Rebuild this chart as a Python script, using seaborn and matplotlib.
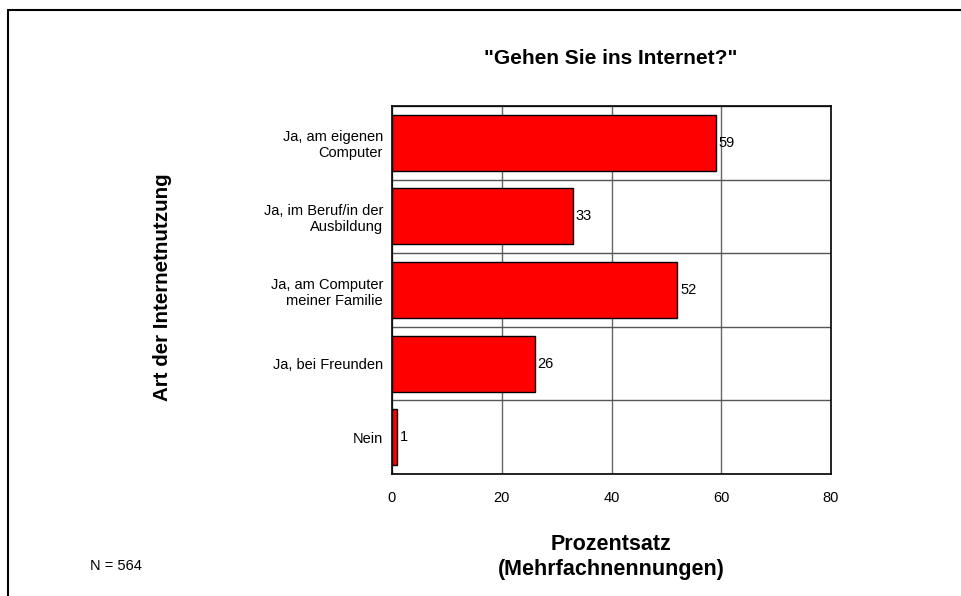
import matplotlib
matplotlib.use("Agg")
import matplotlib.pyplot as plt
from matplotlib.lines import Line2D
from matplotlib.ticker import FixedLocator
import pandas as pd
import seaborn as sns

# data
kategorien = ["Ja, am eigenen\nComputer", "Ja, im Beruf/in der\nAusbildung",
              "Ja, am Computer\nmeiner Familie", "Ja, bei Freunden", "Nein"]
prozent = [59, 33, 52, 26, 1]
x_ticks = [0, 20, 40, 60, 80]

df = pd.DataFrame({"Art": kategorien, "Prozent": prozent})

sns.set_style("white")
plt.rcParams["font.family"] = ["Liberation Sans", "DejaVu Sans"]
plt.rcParams["text.color"] = "black"
plt.rcParams["xtick.labelcolor"] = "black"
plt.rcParams["ytick.labelcolor"] = "black"

fig = plt.figure(figsize=(9.62, 5.96), dpi=100)
ax = fig.add_axes([392 / 962, 1 - 474 / 596, 439 / 962, 368 / 596])

sns.barplot(data=df, x="Prozent", y="Art", orient="h", color="#ff0000",
            edgecolor="black", linewidth=1, width=0.76, saturation=1, ax=ax, zorder=3)

ax.set_xlim(0, 80)
ax.set_xticks(x_ticks)
ax.set_ylim(len(kategorien) - 0.5, -0.5)

# category boundaries as minor ticks / horizontal grid
ax.yaxis.set_minor_locator(FixedLocator([i - 0.5 for i in range(len(kategorien) + 1)]))
ax.tick_params(axis="y", which="major", length=0, labelsize=10.5, pad=6.5)
ax.tick_params(axis="y", which="minor", length=5, width=1, color="black", direction="out")
ax.tick_params(axis="x", which="major", length=5, width=1, color="#808080",
               direction="out", labelsize=10.5, pad=7)
ax.grid(axis="y", which="minor", color="#555555", linewidth=1, zorder=0)
ax.grid(axis="x", which="major", color="#666666", linewidth=1, zorder=0)
ax.set_axisbelow(True)

for s in ax.spines.values():
    s.set_visible(True)
    s.set_color("black")
    s.set_linewidth(1.2)

for c in ax.containers:
    ax.bar_label(c, padding=2, fontsize=10.5)

ax.set_xlabel("")
ax.set_ylabel("")

fig.text(611 / 962, 1 - 59 / 596, '"Gehen Sie ins Internet?"', ha="center", va="center",
         fontsize=15, fontweight="bold")
fig.text(162 / 962, 1 - 287 / 596, "Art der Internetnutzung", ha="center", va="center",
         rotation=90, fontsize=14.8, fontweight="bold")
fig.text(611 / 962, 1 - 557 / 596, "Prozentsatz\n(Mehrfachnennungen)", ha="center",
         va="center", fontsize=15.5, fontweight="bold", linespacing=1.3)
fig.text(90 / 962, 1 - 566 / 596, "N = 564", ha="left", va="center", fontsize=10.5)

# outer frame (top and left only visible)
fig.add_artist(Line2D([8 / 962, 1], [1 - 10 / 596, 1 - 10 / 596], color="black", linewidth=1.5))
fig.add_artist(Line2D([8 / 962, 8 / 962], [0, 1 - 10 / 596], color="black", linewidth=1.5))

fig.savefig("out.png", dpi=100)
